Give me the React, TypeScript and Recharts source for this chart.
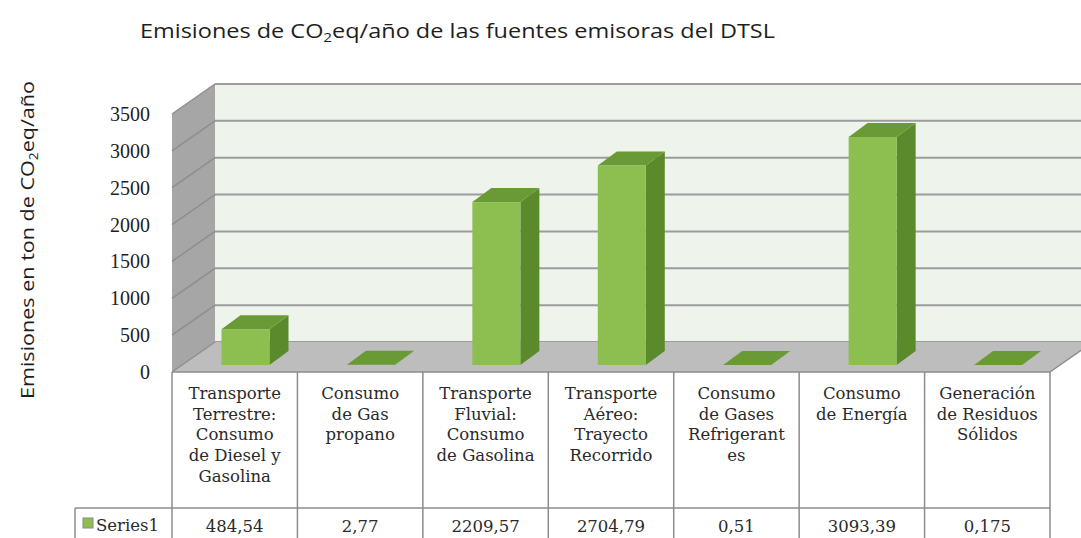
import { BarChart, Bar, XAxis, YAxis, Customized } from 'recharts'

// categories of the data table (line breaks as in the original cells)
const categories = [
  'Transporte\nTerrestre:\nConsumo\nde Diesel y\nGasolina',
  'Consumo\nde Gas\npropano',
  'Transporte\nFluvial:\nConsumo\nde Gasolina',
  'Transporte\nAéreo:\nTrayecto\nRecorrido',
  'Consumo\nde Gases\nRefrigerant\nes',
  'Consumo\nde Energía',
  'Generación\nde Residuos\nSólidos',
]
const series1 = [484.54, 2.77, 2209.57, 2704.79, 0.51, 3093.39, 0.175]
const yTicks = [0, 500, 1000, 1500, 2000, 2500, 3000, 3500]
const seriesName = 'Series1'

const data = categories.map((name, i) => ({ name, value: series1[i] }))

// layout
const W = 1081
const H = 538
const L = 172
const R = 1050
const T = 114
const B = 372
const DX = 43
const DY = 30
const Y_MAX = 3500
const BAR_DX = 10.5
const BAR_DY = 7
const SIDE_DX = 19
const SIDE_DY = 14

const serif = '"DejaVu Serif", serif'
const sans = '"Open Sans", "Noto Sans", sans-serif'
const tableSize = 16.5

const yFront = (v: number) => B - (v / Y_MAX) * (B - T)

function Box3D(props: any) {
  const { x, y, width, height } = props
  const fx = x + BAR_DX
  const fy = y - BAR_DY
  const h = Math.max(height, 0)
  return (
    <g>
      <polygon
        points={`${fx + width},${fy} ${fx + width + SIDE_DX},${fy - SIDE_DY} ${fx + width + SIDE_DX},${fy + h - SIDE_DY} ${fx + width},${fy + h}`}
        fill="#5a8a2b"
      />
      <rect x={fx} y={fy} width={width} height={h} fill="#8cbf4f" />
      <polygon
        points={`${fx},${fy} ${fx + width},${fy} ${fx + width + SIDE_DX},${fy - SIDE_DY} ${fx + SIDE_DX},${fy - SIDE_DY}`}
        fill="#6a9a35"
      />
    </g>
  )
}

function Walls() {
  const band = (R - L) / categories.length
  return (
    <g>
      {/* back wall */}
      <rect x={L + DX} y={T - DY} width={R - L + 10} height={B - T} fill="#eef3ec" />
      {yTicks.map((v) => (
        <line
          key={'g' + v}
          x1={L + DX}
          x2={W}
          y1={yFront(v) - DY}
          y2={yFront(v) - DY}
          stroke="#9c9c9c"
          strokeWidth={2}
        />
      ))}
      {/* floor */}
      <polygon
        points={`${L},${B} ${R},${B} ${R + DX},${B - DY} ${L + DX},${B - DY}`}
        fill="#bdbdbd"
      />
      {/* side wall */}
      <polygon
        points={`${L},${B} ${L + DX},${B - DY} ${L + DX},${T - DY} ${L},${T}`}
        fill="#a6a6a6"
      />
      {yTicks.map((v) => (
        <line
          key={'s' + v}
          x1={L}
          y1={yFront(v)}
          x2={L + DX}
          y2={yFront(v) - DY}
          stroke="#8e8e8e"
          strokeWidth={1.5}
        />
      ))}
      {/* table */}
      <line x1={L} x2={R} y1={B} y2={B} stroke="#8c8c8c" strokeWidth={1.5} />
      <line x1={R} y1={B} x2={R + DX} y2={B - DY} stroke="#8c8c8c" strokeWidth={1.5} />
      <line x1={75} x2={R} y1={508} y2={508} stroke="#8c8c8c" strokeWidth={1.5} />
      <line x1={75} x2={75} y1={508} y2={H} stroke="#8c8c8c" strokeWidth={1.5} />
      {categories.map((_, i) => (
        <line
          key={'c' + i}
          x1={L + i * band}
          x2={L + i * band}
          y1={B}
          y2={H}
          stroke="#8c8c8c"
          strokeWidth={1.5}
        />
      ))}
      <line x1={R} x2={R} y1={B} y2={H} stroke="#8c8c8c" strokeWidth={1.5} />
      <rect x={83} y={518} width={10} height={10} fill="#8cbf4f" stroke="#8a8a8a" />
      <text x={96} y={531} fontFamily={serif} fontSize={tableSize} fill="#2a2a2a">
        {seriesName}
      </text>
      {/* titles */}
      <text x={140} y={38} fontFamily={sans} fontSize={20} fill="#1e1e1e" textLength={635} lengthAdjust="spacingAndGlyphs">
        Emisiones de CO<tspan fontSize={13} dy={4}>2</tspan>
        <tspan dy={-4}>eq/año de las fuentes emisoras del DTSL</tspan>
      </text>
      <text
        transform="translate(34,240) rotate(-90)"
        textAnchor="middle"
        fontFamily={sans}
        fontSize={19}
        fill="#1e1e1e"
        textLength={318}
        lengthAdjust="spacingAndGlyphs"
      >
        Emisiones en ton de CO<tspan fontSize={12} dy={4}>2</tspan>
        <tspan dy={-4}>eq/año</tspan>
      </text>
    </g>
  )
}

function CategoryTick(props: any) {
  const { x, y, payload, index } = props
  const lines = String(payload.value).split('\n')
  const v = series1[index]
  return (
    <g>
      {lines.map((ln, i) => (
        <text
          key={i}
          x={x}
          y={y + 27 + i * 20.7}
          textAnchor="middle"
          fontFamily={serif}
          fontSize={tableSize}
          fill="#2a2a2a"
        >
          {ln}
        </text>
      ))}
      <text x={x} y={532} textAnchor="middle" fontFamily={serif} fontSize={tableSize} fill="#2a2a2a">
        {String(v).replace('.', ',')}
      </text>
    </g>
  )
}

function ValueTick(props: any) {
  const { x, y, payload } = props
  return (
    <text x={x} y={y + 7} textAnchor="end" fontFamily='"Liberation Serif", serif' fontSize={20} fill="#1e1e1e">
      {payload.value}
    </text>
  )
}

export default function App() {
  return (
    <div style={{ position: 'absolute', left: 0, top: 0, width: W, height: H, background: '#fff' }}>
      <BarChart
        width={W}
        height={H}
        data={data}
        margin={{ top: T, right: W - R, left: 0, bottom: 0 }}
        barCategoryGap={0}
      >
        <Customized component={<Walls />} />
        <XAxis
          dataKey="name"
          height={H - B}
          axisLine={false}
          tickLine={false}
          tickSize={0}
          tickMargin={0}
          interval={0}
          tick={<CategoryTick />}
        />
        <YAxis
          width={L}
          domain={[0, Y_MAX]}
          ticks={yTicks}
          axisLine={false}
          tickLine={false}
          tickSize={0}
          tickMargin={22}
          tick={<ValueTick />}
        />
        <Bar dataKey="value" barSize={48} shape={<Box3D />} isAnimationActive={false} />
      </BarChart>
    </div>
  )
}
